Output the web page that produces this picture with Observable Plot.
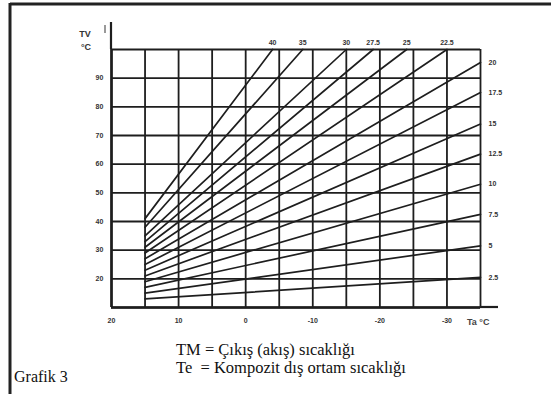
<!DOCTYPE html>
<html><head><meta charset="utf-8">
<script src="https://cdn.jsdelivr.net/npm/d3@7"></script>
<script src="https://cdn.jsdelivr.net/npm/@observablehq/plot@0.6"></script>
<style>
html,body{margin:0;padding:0;background:#fff;}
#chart{position:relative;width:551px;height:394px;overflow:hidden;}
</style>
</head><body><div id="chart"></div>
<script>
// Heating curves: label, start (Ta, TV), end (Ta, TV)
const curveLabels = ["2.5","5","7.5","10","12.5","15","17.5","20","22.5","25","27.5","30","35","40"];
const startTa = [15,15,15,15,15,15,15,15,15,15,15,15,15,15];
const startTV = [13,15,17,19,21,23,25,27,29,31,33,35,38,41];
const endTa   = [-35,-35,-35,-35,-35,-35,-35,-35,-30,-24,-19,-15,-8.5,-4];
const endTV   = [20.5,31.5,42.5,53,63.5,74,85,95.5,100,100,100,100,100,100];

const xGrid = [20,15,10,5,0,-5,-10,-15,-20,-25,-30,-35];
const yGrid = [10,20,30,40,50,60,70,80,90,100];
const xTickLabels = [20,10,0,-10,-20,-30];
const yTickLabels = [20,30,40,50,60,70,80,90];

const curves = curveLabels.map((k,i)=>({k, sTa:startTa[i], sTV:startTV[i], eTa:endTa[i], eTV:endTV[i]}));
const pts = curves.flatMap(c=>[{k:c.k,Ta:c.sTa,TV:c.sTV},{k:c.k,Ta:c.eTa,TV:c.eTV}]);
const rightLab = curves.filter(c=>c.eTV<100);
const topLab = curves.filter(c=>c.eTV>=100);

const ink = "#1e1e1e";
const tickFont = {fontSize:7, fontWeight:"bold", fill:"#333"};

const plot = Plot.plot({
  width:551, height:394,
  marginLeft:111, marginRight:71, marginTop:49, marginBottom:87,
  x:{domain:[20,-35], axis:null},
  y:{domain:[10,100], axis:null},
  style:{background:"transparent", fontFamily:"'Liberation Sans', Arial, sans-serif"},
  marks:[
    Plot.ruleX(xGrid, {stroke:ink, strokeWidth:1.8}),
    Plot.ruleY(yGrid, {stroke:ink, strokeWidth:1.8}),
    Plot.ruleX([20], {stroke:ink, strokeWidth:2.6}),
    Plot.ruleY([10], {stroke:ink, strokeWidth:2.6}),
    Plot.line(pts, {x:"Ta", y:"TV", z:"k", stroke:ink, strokeWidth:1.7}),
    Plot.text(xTickLabels, {x:d=>d, frameAnchor:"bottom", dy:15, text:d=>String(d), ...tickFont}),
    Plot.text(yTickLabels, {y:d=>d, frameAnchor:"left", dx:-16, text:d=>String(d), ...tickFont}),
    Plot.text(rightLab, {x:"eTa", y:"eTV", text:"k", dx:8, textAnchor:"start", ...tickFont}),
    Plot.text(topLab, {x:"eTa", y:"eTV", text:"k", dy:-7, ...tickFont})
  ]
});
document.getElementById("chart").appendChild(plot);

const svg = d3.select(plot);
const sx = plot.scale("x"), sy = plot.scale("y");
const x0 = sx.apply(20), yb = sy.apply(10), xr = sx.apply(-35), yt = sy.apply(100);
// axis extensions
svg.append("line").attr("x1",x0).attr("x2",x0).attr("y1",yt).attr("y2",yt-27).attr("stroke",ink).attr("stroke-width",2.2);
svg.append("line").attr("x1",x0-6).attr("x2",x0-6).attr("y1",yt-16).attr("y2",yt-24).attr("stroke","#555").attr("stroke-width",1.2);
svg.append("line").attr("x1",xr).attr("x2",xr+18).attr("y1",yb).attr("y2",yb).attr("stroke",ink).attr("stroke-width",2.2);
// axis titles
const t = (x,y,s,attrs)=>{const e=svg.append("text").attr("x",x).attr("y",y).attr("text-anchor","start").text(s);for(const k in attrs)e.attr(k,attrs[k]);return e;};
t(85, 37, "TV", {"font-size":9,"font-weight":"bold","fill":"#333","text-anchor":"middle","font-family":"'Liberation Sans', Arial"});
t(86, 50, "°C", {"font-size":9,"font-weight":"bold","fill":"#333","text-anchor":"middle","font-family":"'Liberation Sans', Arial"});
t(467, yb+18, "Ta °C", {"font-size":9,"font-weight":"bold","fill":"#444","font-family":"'Liberation Sans', Arial"});
// frame
svg.append("line").attr("x1",10).attr("x2",551).attr("y1",4).attr("y2",4).attr("stroke","#222").attr("stroke-width",3);
svg.append("line").attr("x1",10).attr("x2",10).attr("y1",3).attr("y2",394).attr("stroke","#222").attr("stroke-width",3);
// captions
const serif = "'Liberation Serif','Times New Roman',serif";
t(176, 355, "TM = Çıkış (akış) sıcaklığı", {"font-size":16.5,"font-family":serif,"fill":"#111"});
t(176, 373, "Te  = Kompozit dış ortam sıcaklığı", {"font-size":16.5,"font-family":serif,"fill":"#111","style":"white-space:pre"});
t(14, 382, "Grafik 3", {"font-size":16,"font-family":serif,"fill":"#111"});
</script>
</body></html>
